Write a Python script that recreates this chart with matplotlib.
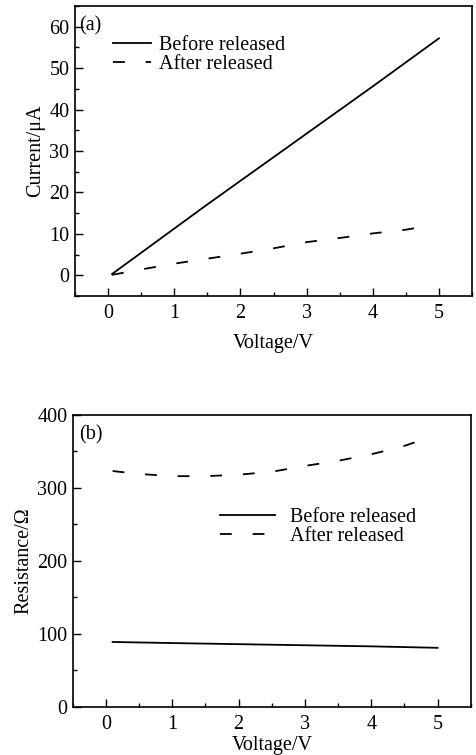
import matplotlib
matplotlib.use('Agg')
import matplotlib.pyplot as plt
from matplotlib.ticker import MultipleLocator

plt.rcParams['font.family'] = ['Liberation Serif', 'DejaVu Serif']
plt.rcParams['lines.scale_dashes'] = False

# (a) current vs voltage
v_before_a = [0.06, 1.5, 3, 4, 5]
i_before = [0.3, 17.1, 34.2, 45.6, 57.2]
v_after_a = [0.06, 0.5, 1, 1.5, 2, 2.5, 3, 3.5, 4, 4.5, 4.9]
i_after = [0.1, 1.4, 2.8, 4.0, 5.2, 6.5, 8.0, 9.0, 10.1, 11.0, 12.1]

# (b) resistance vs voltage
v_before_b = [0.1, 1, 2, 3, 4, 5]
r_before = [89, 87.5, 86, 84.5, 83, 81]
v_after_b = [0.1, 0.5, 1, 1.5, 2, 2.5, 3, 3.5, 4, 4.45, 4.91]
r_after = [323, 319, 316, 316, 318, 322, 330, 337, 346, 356, 370]

dash = (0, (8.5, 15))
fs = 14.5

fig = plt.figure(figsize=(4.76, 7.55), dpi=100)

ax1 = fig.add_axes([0.1576, 0.608, 0.834, 0.384])
ax1.plot(v_before_a, i_before, 'k-', lw=1.3, label='Before released')
ax1.plot(v_after_a, i_after, color='k', linestyle=dash, lw=1.3, label='After released')
ax1.set_xlim(-0.5, 5.5)
ax1.set_ylim(-5, 65)
ax1.yaxis.set_major_locator(MultipleLocator(10))
ax1.yaxis.set_minor_locator(MultipleLocator(5))
ax1.set_ylabel('Current/\u03bcA', fontsize=fs, labelpad=3)
ax1.text(-0.44, 60.3, '(a)', fontsize=fs, va='center')
ax1.legend(loc='upper left', bbox_to_anchor=(0.075, 0.925), frameon=False, fontsize=fs,
           handlelength=1.9, handletextpad=0.4, labelspacing=0.0, borderaxespad=0)

ax2 = fig.add_axes([0.153, 0.0636, 0.836, 0.387])
ax2.plot(v_before_b, r_before, 'k-', lw=1.3, label='Before released')
ax2.plot(v_after_b, r_after, color='k', linestyle=dash, lw=1.3, label='After released')
ax2.set_xlim(-0.5, 5.5)
ax2.set_ylim(0, 400)
ax2.yaxis.set_major_locator(MultipleLocator(100))
ax2.yaxis.set_minor_locator(MultipleLocator(50))
ax2.set_ylabel('Resistance/\u03a9', fontsize=fs, labelpad=3)
ax2.text(-0.4, 372, '(b)', fontsize=fs, va='center')
ax2.legend(loc='upper left', bbox_to_anchor=(0.35, 0.71), frameon=False, fontsize=fs,
           handlelength=2.7, handletextpad=0.75, labelspacing=0.0, borderaxespad=0)

for ax in (ax1, ax2):
    ax.xaxis.set_major_locator(MultipleLocator(1))
    ax.xaxis.set_minor_locator(MultipleLocator(0.5))
    ax.tick_params(which='both', direction='in', labelsize=fs, top=False, right=False)
    ax.tick_params(which='major', length=6, width=1)
    ax.tick_params(which='minor', length=3, width=1)
    ax.tick_params(axis='x', pad=6)
    ax.tick_params(axis='y', pad=4)
    for s in ax.spines.values():
        s.set_linewidth(1.2)

ax1.set_xlabel('Voltage/V', fontsize=fs, labelpad=8)
ax2.set_xlabel('Voltage/V', fontsize=fs, labelpad=1)

fig.savefig('out.png', dpi=100)
